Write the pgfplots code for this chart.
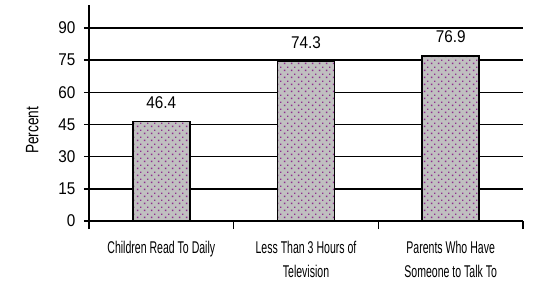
\documentclass[border=0pt]{standalone}
\usepackage{fontspec}
\setmainfont{Liberation Sans}[FakeStretch=0.62]
\newfontfamily\numfont{Liberation Sans}[FakeStretch=0.9]
\newfontfamily\labfont{Liberation Sans}[FakeStretch=0.76]
\usepackage{pgfplots}
\pgfplotsset{compat=1.18}
\usetikzlibrary{patterns,calc}
\definecolor{barfill}{HTML}{C0C0C0}
\definecolor{dotc}{HTML}{8E2E8E}
\pgfdeclarepatternformonly{chev}{\pgfqpoint{0pt}{0pt}}{\pgfqpoint{7.2pt}{7.2pt}}{\pgfqpoint{7.2pt}{7.2pt}}{%
  \pgfpathrectangle{\pgfqpoint{1pt}{1pt}}{\pgfqpoint{1.5pt}{1.5pt}}%
  \pgfpathrectangle{\pgfqpoint{4.6pt}{4.6pt}}{\pgfqpoint{1.5pt}{1.5pt}}%
  \pgfusepath{fill}}
\begin{document}
\begin{tikzpicture}
\begin{axis}[
  scale only axis, width=434pt, height=216pt,
  xmin=-0.5, xmax=2.5, ymin=0, ymax=100.7,
  axis x line=bottom, axis y line=left,
  axis line style={-, line width=1.6pt, black},
  ytick={0,15,30,45,60,75,90},
  ymajorgrids, major grid style={black, line width=1.4pt},
  tick align=outside,
  major tick length=5pt,
  tick style={black, line width=1.4pt},
  xtick={-0.5,0.5,1.5,2.5}, xticklabels={},
  xtick style={/pgfplots/major tick length=8pt},
  extra x ticks={0,1,2},
  extra x tick labels={Children Read To Daily, Less Than 3 Hours of\\Television, Parents Who Have\\Someone to Talk To},
  extra x tick style={major tick length=0pt, tick style={draw=none},
    tick label style={align=center, font=\fontsize{17}{24}\selectfont, yshift=-17pt}},
  yticklabel style={font=\numfont\fontsize{17}{20}\selectfont, xshift=-5pt},
  /pgf/number format/assume math mode=true,
  ylabel={Percent},
  ylabel style={at={(axis description cs:-0.131,0.42)}, anchor=center, font=\labfont\fontsize{18}{20}\selectfont},
  ybar, bar width=57pt,
  nodes near coords={\pgfmathprintnumber[fixed, precision=1, fixed zerofill]{\pgfplotspointmeta}},
  nodes near coords style={font=\numfont\fontsize{17}{20}\selectfont, yshift=9pt, /pgf/number format/assume math mode=true},
  clip=false,
]
\addplot[fill=barfill, draw=black, line width=1.6pt,
  postaction={pattern=chev, pattern color=dotc}]
  coordinates {(0,46.4) (1,74.3) (2,76.9)};
\coordinate (bl) at (rel axis cs:0,0);
\end{axis}
\pgfresetboundingbox
\path ($(bl)+(-89pt,-62pt)$) rectangle ($(bl)+(446pt,221pt)$);
\end{tikzpicture}
\end{document}
